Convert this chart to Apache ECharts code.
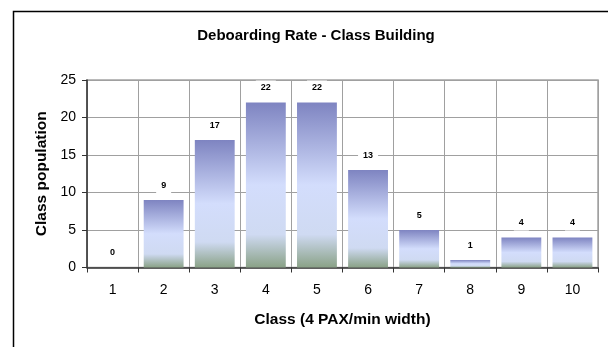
<!DOCTYPE html>
<html>
<head>
<meta charset="utf-8">
<script src="https://cdn.jsdelivr.net/npm/echarts@6/dist/echarts.min.js"></script>
<style>
  html, body { margin: 0; padding: 0; background: #fff; }
  #chart { width: 608px; height: 347px; }
</style>
</head>
<body>
<div id="chart"></div>
<script>
// Class population per deboarding-rate class
const classes = ['1', '2', '3', '4', '5', '6', '7', '8', '9', '10'];
const population = [0, 9, 17, 22, 22, 13, 5, 1, 4, 4];
const yTicks = { min: 0, max: 25, step: 5 };

const chart = echarts.init(document.getElementById('chart'));
const font = 'Liberation Sans, Arial, sans-serif';

const barFill = new echarts.graphic.LinearGradient(0, 0, 0, 1, [
  { offset: 0, color: '#7e84c1' },
  { offset: 0.5, color: '#d3ddfc' },
  { offset: 0.8, color: '#cfdaf2' },
  { offset: 1, color: '#8aa287' }
]);

chart.setOption({
  animation: false,
  backgroundColor: '#ffffff',
  title: {
    text: 'Deboarding Rate - Class Building',
    left: 311, top: 23, textAlign: 'center',
    textStyle: { fontFamily: font, fontSize: 15, fontWeight: 'bold', color: '#000' }
  },
  graphic: [{
    type: 'rect', left: 11, top: 9, z: -1,
    shape: { width: 640, height: 400 },
    style: { fill: 'none', stroke: '#000', lineWidth: 1.5 }
  }],
  grid: {
    left: 87, top: 80, right: 10, bottom: 79.5,
    show: true, borderColor: '#a4a4a4', borderWidth: 1.5
  },
  xAxis: {
    type: 'category',
    data: classes,
    name: 'Class (4 PAX/min width)',
    nameLocation: 'middle', nameGap: 44,
    nameTextStyle: { fontFamily: font, fontSize: 15.5, fontWeight: 'bold', color: '#000' },
    axisLine: { lineStyle: { color: '#333', width: 1.5 } },
    axisTick: { show: true, length: 5, lineStyle: { color: '#333' } },
    axisLabel: { fontFamily: font, fontSize: 14, color: '#000', margin: 16 },
    splitLine: { show: true, lineStyle: { color: '#a0a0a0', width: 1 } }
  },
  yAxis: {
    type: 'value',
    min: yTicks.min, max: yTicks.max, interval: yTicks.step,
    name: 'Class population',
    nameLocation: 'middle', nameGap: 36,
    nameTextStyle: { fontFamily: font, fontSize: 15.5, fontWeight: 'bold', color: '#000' },
    axisLine: { show: true, lineStyle: { color: '#333', width: 1.5 } },
    axisTick: { show: true, length: 5, lineStyle: { color: '#333' } },
    axisLabel: { fontFamily: font, fontSize: 14, color: '#000', margin: 11 },
    splitLine: { show: true, lineStyle: { color: '#a0a0a0', width: 1 } }
  },
  series: [{
    type: 'bar',
    data: population,
    barCategoryGap: '22%',
    itemStyle: { color: barFill },
    label: {
      show: true, position: 'top', distance: 7,
      fontFamily: font, fontSize: 9, fontWeight: 'bold', color: '#000',
      backgroundColor: '#fff', padding: [3, 5]
    }
  }]
});
</script>
</body>
</html>
